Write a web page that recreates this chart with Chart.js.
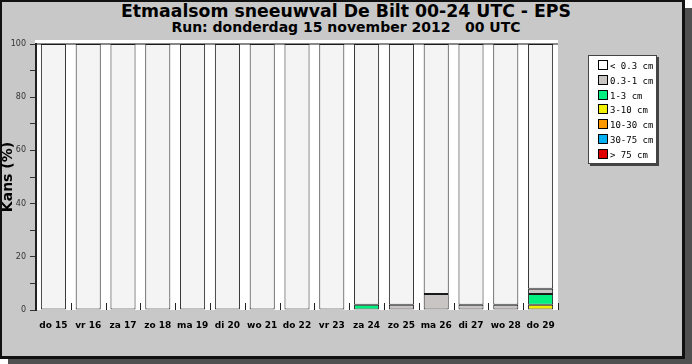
<!DOCTYPE html>
<html><head><meta charset="utf-8">
<script src="https://cdn.jsdelivr.net/npm/chart.js@4/dist/chart.umd.min.js"></script>
<style>
html,body{margin:0;padding:0;width:692px;height:364px;overflow:hidden;background:#fff;}
#shadow{position:absolute;left:8px;top:8px;width:684px;height:356px;background:#505050;}
#panel{position:absolute;left:0;top:0;width:680px;height:354px;background:#c8c8c8;border:2px solid #111;border-right-width:3px;border-bottom-width:3px;}
#t1{position:absolute;left:0;width:692px;top:1px;text-align:center;font:bold 17.3px "DejaVu Sans",sans-serif;color:#000;line-height:20px;}
#t2{position:absolute;left:0;width:692px;top:18px;text-align:center;font:bold 14px "DejaVu Sans",sans-serif;color:#000;line-height:18px;}
#c{position:absolute;left:0;top:0;}
#legend{position:absolute;left:588px;top:55px;width:67px;height:107px;background:#fff;border:1px solid #444;box-shadow:2px 2px 0 #444;}
.li{position:absolute;left:9px;height:12px;font:9px "DejaVu Sans Mono",monospace;color:#000;white-space:pre;line-height:12px;}
.sw{display:inline-block;width:8px;height:8px;border:1px solid #000;margin-right:2px;vertical-align:-1px;}
</style></head>
<body>
<div id="shadow"></div>
<div id="panel"></div>
<div id="t1">Etmaalsom sneeuwval De Bilt 00-24 UTC - EPS</div>
<div id="t2">Run: donderdag 15 november 2012&nbsp;&nbsp;&nbsp;00 UTC</div>
<canvas id="c" width="692" height="364"></canvas>
<div id="legend"></div>
<script>
const days = ["do 15","vr 16","za 17","zo 18","ma 19","di 20","wo 21","do 22","vr 23","za 24","zo 25","ma 26","di 27","wo 28","do 29"];
const classNames = ["< 0.3 cm","0.3-1 cm","1-3 cm","3-10 cm","10-30 cm","30-75 cm","> 75 cm"];
const classColors = ["#f4f4f4","#c9c5c5","#00f080","#f0f000","#ff9900","#00b0f0","#e00000"];
const legendColors = ["#ffffff","#c9c5c5","#00f080","#f0f000","#ff9900","#00b0f0","#e00000"];
const lt03   = [100,100,100,100,100,100,100,100,100,98,98,94,98,98,92];
const c03_1  = [0,0,0,0,0,0,0,0,0,0,2,6,2,2,2];
const c1_3   = [0,0,0,0,0,0,0,0,0,2,0,0,0,0,4];
const c3_10  = [0,0,0,0,0,0,0,0,0,0,0,0,0,0,2];
const c10_30 = [0,0,0,0,0,0,0,0,0,0,0,0,0,0,0];
const c30_75 = [0,0,0,0,0,0,0,0,0,0,0,0,0,0,0];
const gt75   = [0,0,0,0,0,0,0,0,0,0,0,0,0,0,0];
const yTicks = [0,20,40,60,80,100];
const series = [lt03,c03_1,c1_3,c3_10,c10_30,c30_75,gt75];

const lg = document.getElementById('legend');
classNames.forEach((n,i)=>{
  const d=document.createElement('div');d.className='li';d.style.top=(4+i*14.8)+'px';
  d.innerHTML='<span class="sw" style="background:'+legendColors[i]+'"></span>';
  d.appendChild(document.createTextNode(n));lg.appendChild(d);
});

const datasets = [];
for(let i=series.length-1;i>=0;i--){
  datasets.push({label:classNames[i],data:series[i],backgroundColor:classColors[i],
    borderColor:'#1a1a1a',borderWidth:1,borderSkipped:false,
    categoryPercentage:1.0,barPercentage:0.72});
}
const bgPlugin={id:'bg',
  beforeDraw(ch){const a=ch.chartArea,c=ch.ctx;c.save();c.fillStyle='#fff';c.fillRect(a.left,a.top,a.right-a.left,a.bottom-a.top);
    c.fillStyle='#fff';c.fillRect(a.left-1,a.top-4,a.right-a.left+1,3);
    c.strokeStyle='#888';c.lineWidth=2;c.beginPath();c.moveTo(a.left,a.top);c.lineTo(a.right,a.top);c.stroke();c.restore();},
  afterDatasetsDraw(ch){const a=ch.chartArea,c=ch.ctx,x=ch.scales.x;c.save();c.strokeStyle='#222';c.lineWidth=1;
    for(let i=0;i<days.length;i++){const p=Math.round(x.getPixelForValue(i)+ (x.getPixelForValue(1)-x.getPixelForValue(0))/2)+0.5;
      c.beginPath();c.moveTo(p,a.bottom);c.lineTo(p,a.bottom-7);c.stroke();}
    c.restore();}
};
new Chart(document.getElementById('c'),{
  type:'bar',
  data:{labels:days,datasets},
  options:{responsive:false,animation:false,devicePixelRatio:1,
    layout:{padding:{top:44,left:0,right:134,bottom:0}},
    plugins:{legend:{display:false},tooltip:{enabled:false}},
    scales:{
      x:{stacked:true,grid:{display:false},border:{display:false},
        ticks:{color:'#000',font:{family:'DejaVu Sans',weight:'bold',size:9},padding:2,maxRotation:0,autoSkip:false},
        afterFit(s){s.height=54;}},
      y:{stacked:true,min:0,max:100,
        grid:{drawOnChartArea:false,tickLength:6,color:'#333'},
        border:{display:true,color:'#222',width:2},
        ticks:{stepSize:10,color:'#333',font:{family:'DejaVu Sans',size:8},padding:4,
          callback:v=>yTicks.includes(v)?String(v):''},
        title:{display:true,text:'Kans (%)',color:'#000',font:{family:'DejaVu Sans',weight:'bold',size:14},padding:{top:0,bottom:0}},
        afterFit(s){s.width=36;}}
    }
  },
  plugins:[bgPlugin]
});
</script>
</body></html>
